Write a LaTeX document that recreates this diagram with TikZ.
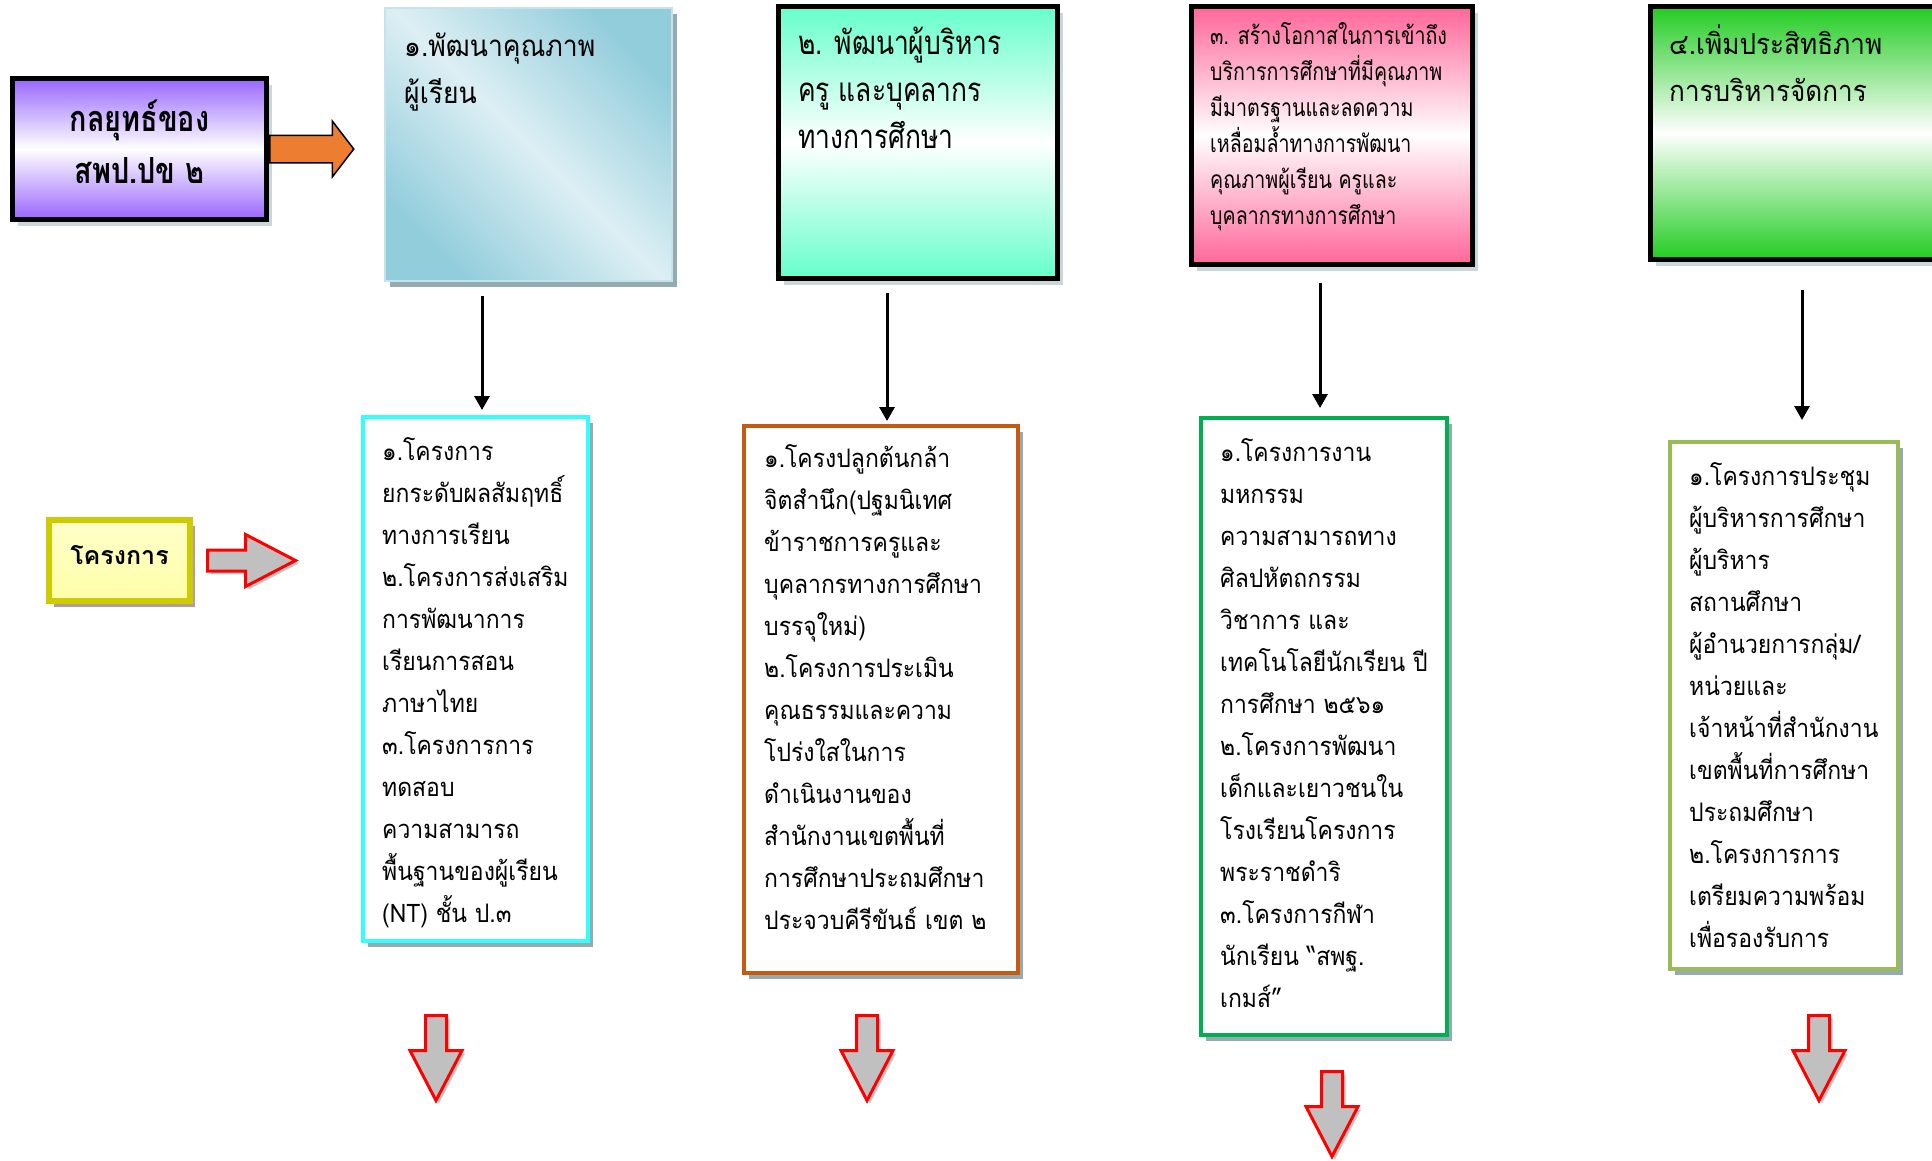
\documentclass[tikz,border=0pt]{standalone}
\usepackage{fontspec}
\usepackage{tikz}
\usetikzlibrary{
    arrows.meta,
    shapes.arrows,
    shadows,
    calc,
    positioning
}
\newfontfamily\thaifont[Script=Thai]{Loma}
\newfontfamily\thailist[Script=Thai,FakeStretch=0.9]{Loma}
\newfontfamily\thaicond[Script=Thai,FakeStretch=0.8]{Loma}

\definecolor{stratpurple}{HTML}{9966FF}
\definecolor{goalblue}{HTML}{92CDDC}
\definecolor{goalpale}{HTML}{DDEFF4}
\definecolor{goaledge}{HTML}{C4E3EB}
\definecolor{goalaqua}{HTML}{66FFCC}
\definecolor{goalpink}{HTML}{FF6699}
\definecolor{goalgreen}{HTML}{22CC22}
\definecolor{arroworange}{HTML}{ED7D31}
\definecolor{projcyan}{HTML}{33FFFF}
\definecolor{projbrown}{HTML}{C55A11}
\definecolor{projgreen}{HTML}{00B050}
\definecolor{projolive}{HTML}{9BBB59}
\definecolor{labelyellow}{HTML}{CCCC00}
\definecolor{labelfill}{HTML}{FFFFA8}
\definecolor{shadowblue}{HTML}{94ABB2}
\definecolor{shadowpale}{HTML}{C9D7DB}
\definecolor{shadowrose}{HTML}{B59C9C}
\definecolor{blockgrey}{HTML}{C0C0C0}

\tikzset{
    boxshadow/.style={drop shadow={shadow xshift=5pt, shadow yshift=-6pt, fill=#1, opacity=1}},
    goalbox/.style={draw=black, line width=5pt, boxshadow=shadowpale, inner sep=0pt},
    projbox/.style={draw=#1, line width=4pt, fill=white, boxshadow=shadowblue, inner sep=0pt},
    goaltext/.style={font=\thailist\fontsize{29.5}{47}\selectfont, align=left, anchor=north west, inner sep=0pt},
    condtext/.style 2 args={font=\thaicond\fontsize{#1}{#2}\selectfont, align=left, anchor=north west, inner sep=0pt},
    listtext/.style={font=\thailist\fontsize{25.5}{42}\selectfont, align=left, anchor=north west, inner sep=0pt},
    blockarrow/.style={single arrow, draw=red, line width=3pt, fill=blockgrey,
        minimum height=85pt, inner xsep=0pt, inner ysep=9pt, single arrow head extend=15.5pt,
        single arrow tip angle=55,
        drop shadow={shadow xshift=3pt, shadow yshift=-3pt, fill=black!22, opacity=1}},
    stratarrow/.style={single arrow, draw=black, line width=1.5pt, fill=arroworange,
        minimum height=84pt, inner xsep=0pt, inner ysep=13pt, single arrow head extend=14pt,
        single arrow tip angle=105},
    flow/.style={line width=3pt, -{Triangle[width=15pt,length=14pt]}}
}

\begin{document}
\begin{tikzpicture}[x=1pt, y=-1pt]
    \clip (0,0) rectangle (1932,1160);

    % strategy heading
    \node[goalbox, top color=stratpurple, bottom color=stratpurple, middle color=white,
        minimum width=254pt, minimum height=141pt] (strat) at (139.5,149) {};
    \node[align=center, inner sep=0pt, font=\thaicond\bfseries\fontsize{36}{52}\selectfont]
        (strattext) at ([yshift=7pt]strat.center) {กลยุทธ์ของ\\สพป.ปข ๒};
    \node[stratarrow, anchor=tail] (stratarr) at (strat.east) {};

    % four goals
    \node[goalbox, draw=goaledge, line width=2pt, boxshadow=shadowblue,
        top color=goalblue, bottom color=goalblue, middle color=goalpale, shading angle=-45,
        minimum width=287pt, minimum height=273pt] (goal1) at (528.5,144.5) {};
    \node[goalbox, top color=goalaqua, bottom color=goalaqua, middle color=white,
        minimum width=279pt, minimum height=272pt] (goal2) at (918,142.5) {};
    \node[goalbox, top color=goalpink, bottom color=goalpink, middle color=white,
        minimum width=281pt, minimum height=258pt] (goal3) at (1332,135.5) {};
    \node[goalbox, top color=goalgreen, bottom color=goalgreen, middle color=white,
        minimum width=292pt, minimum height=253pt] (goal4) at (1796.5,133) {};

    \node[goaltext] (goal1text) at ([xshift=20pt,yshift=-26pt]goal1.north west)
        {๑.พัฒนาคุณภาพ\\ผู้เรียน};
    \node[condtext={33}{47}] (goal2text) at ([xshift=22pt,yshift=-23pt]goal2.north west)
        {๒. พัฒนาผู้บริหาร\\ครู และบุคลากร\\ทางการศึกษา};
    \node[condtext={24.5}{36}] (goal3text) at ([xshift=21pt,yshift=-18pt]goal3.north west)
        {๓. สร้างโอกาสในการเข้าถึง\\บริการการศึกษาที่มีคุณภาพ\\มีมาตรฐานและลดความ\\เหลื่อมล้ำทางการพัฒนา\\คุณภาพผู้เรียน ครูและ\\บุคลากรทางการศึกษา};
    \node[goaltext, font=\thailist\fontsize{29}{47}\selectfont] (goal4text)
        at ([xshift=21pt,yshift=-20pt]goal4.north west)
        {๔.เพิ่มประสิทธิภาพ\\การบริหารจัดการ};

    % project label
    \node[draw=labelyellow, line width=6pt, top color=labelfill!60, bottom color=labelfill,
        boxshadow=shadowrose, minimum width=141pt, minimum height=81pt, inner sep=0pt] (projlabel) at (119.5,560.5) {};
    \node[inner sep=0pt, font=\thaifont\bfseries\fontsize{25}{34}\selectfont]
        (projlabeltext) at ([yshift=5pt]projlabel.center) {โครงการ};
    \node[blockarrow, minimum height=88pt, anchor=tail] (projarr)
        at ([xshift=13pt]projlabel.east) {};

    % project lists
    \node[projbox=projcyan, minimum width=225pt, minimum height=524pt] (proj1) at (475.5,679) {};
    \node[projbox=projbrown, minimum width=274pt, minimum height=547pt] (proj2) at (881,699.5) {};
    \node[projbox=projgreen, minimum width=246pt, minimum height=617pt] (proj3) at (1324,726.5) {};
    \node[projbox=projolive, minimum width=228pt, minimum height=527pt] (proj4) at (1784,705.5) {};

    \node[listtext] (proj1text) at ([xshift=21pt,yshift=-22pt]proj1.north west)
        {๑.โครงการ\\ยกระดับผลสัมฤทธิ์\\ทางการเรียน\\๒.โครงการส่งเสริม\\การพัฒนาการ\\เรียนการสอน\\ภาษาไทย\\๓.โครงการการ\\ทดสอบ\\ความสามารถ\\พื้นฐานของผู้เรียน\\(NT) ชั้น ป.๓};
    \node[listtext] (proj2text) at ([xshift=22pt,yshift=-20pt]proj2.north west)
        {๑.โครงปลูกต้นกล้า\\จิตสำนึก(ปฐมนิเทศ\\ข้าราชการครูและ\\บุคลากรทางการศึกษา\\บรรจุใหม่)\\๒.โครงการประเมิน\\คุณธรรมและความ\\โปร่งใสในการ\\ดำเนินงานของ\\สำนักงานเขตพื้นที่\\การศึกษาประถมศึกษา\\ประจวบคีรีขันธ์ เขต ๒};
    \node[listtext] (proj3text) at ([xshift=21pt,yshift=-22pt]proj3.north west)
        {๑.โครงการงาน\\มหกรรม\\ความสามารถทาง\\ศิลปหัตถกรรม\\วิชาการ และ\\เทคโนโลยีนักเรียน ปี\\การศึกษา ๒๕๖๑\\๒.โครงการพัฒนา\\เด็กและเยาวชนใน\\โรงเรียนโครงการ\\พระราชดำริ\\๓.โครงการกีฬา\\นักเรียน “สพฐ.\\เกมส์”};
    \node[listtext] (proj4text) at ([xshift=21pt,yshift=-22pt]proj4.north west)
        {๑.โครงการประชุม\\ผู้บริหารการศึกษา\\ผู้บริหาร\\สถานศึกษา\\ผู้อำนวยการกลุ่ม/\\หน่วยและ\\เจ้าหน้าที่สำนักงาน\\เขตพื้นที่การศึกษา\\ประถมศึกษา\\๒.โครงการการ\\เตรียมความพร้อม\\เพื่อรองรับการ};

    % goal to projects
    \draw[flow, shorten <=14pt, shorten >=5pt] ($(proj1.north |- goal1.south)+(6.5,0)$) -- ($(proj1.north)+(6.5,0)$);
    \draw[flow, shorten <=12pt, shorten >=3pt] ($(proj2.north |- goal2.south)+(6,0)$) -- ($(proj2.north)+(6,0)$);
    \draw[flow, shorten <=16pt, shorten >=8pt] ($(proj3.north |- goal3.south)+(-4,0)$) -- ($(proj3.north)+(-4,0)$);
    \draw[flow, shorten <=28pt, shorten >=20pt] ($(proj4.north |- goal4.south)+(18,0)$) -- ($(proj4.north)+(18,0)$);

    % continuation arrows
    \node[blockarrow, rotate=-90, anchor=tail] (next1) at (436,1014) {};
    \node[blockarrow, rotate=-90, anchor=tail] (next2) at (867,1014) {};
    \node[blockarrow, rotate=-90, anchor=tail] (next3) at (1332,1070) {};
    \node[blockarrow, rotate=-90, anchor=tail] (next4) at (1819,1014) {};
\end{tikzpicture}
\end{document}
